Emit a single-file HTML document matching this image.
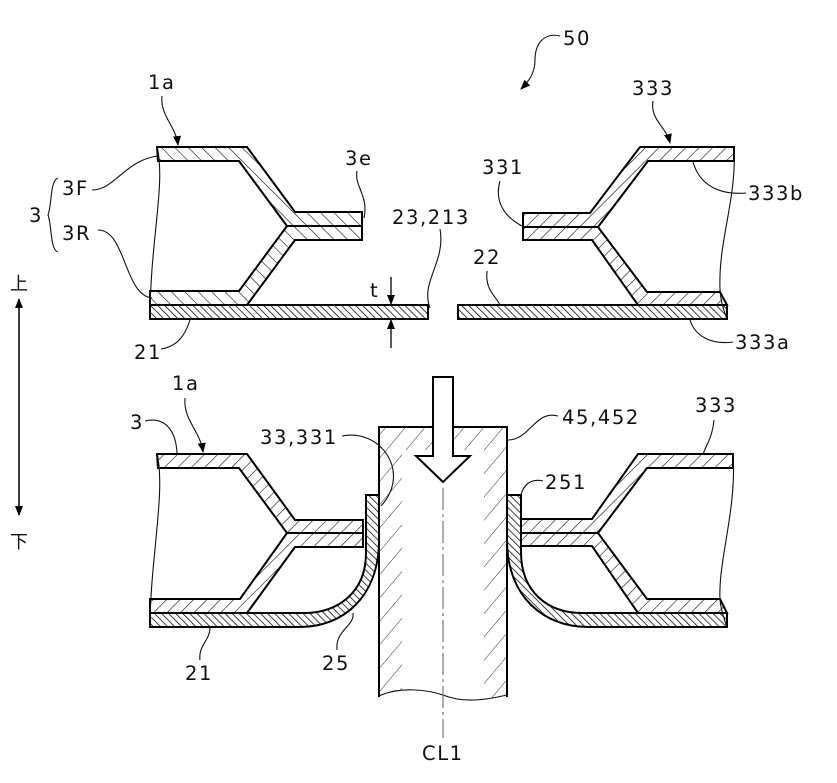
<!DOCTYPE html>
<html><head><meta charset="utf-8"><style>
html,body{margin:0;padding:0;background:#fff;}
svg{display:block;}
text{font-family:"DejaVu Sans","Liberation Sans",sans-serif;font-size:19.5px;fill:#111;letter-spacing:1.6px;}
.cjk{font-family:"Liberation Sans","Noto Sans CJK JP",sans-serif;font-size:18px;letter-spacing:0;}
.o{stroke:#000;stroke-width:2;stroke-linejoin:miter;}
.thin{fill:none;stroke:#111;stroke-width:1.1;}
</style></head><body>
<svg width="837" height="783" viewBox="0 0 837 783" xmlns="http://www.w3.org/2000/svg">
<defs>
<pattern id="hB" patternUnits="userSpaceOnUse" width="9.5" height="9.5" patternTransform="rotate(-45)"><line x1="0" y1="0" x2="0" y2="9.5" stroke="#111" stroke-width="1.2"/></pattern>
<pattern id="hF" patternUnits="userSpaceOnUse" width="9.5" height="9.5" patternTransform="rotate(45)"><line x1="0" y1="0" x2="0" y2="9.5" stroke="#111" stroke-width="1.2"/></pattern>
<pattern id="hD" patternUnits="userSpaceOnUse" width="5" height="5" patternTransform="rotate(-45)"><line x1="0" y1="0" x2="0" y2="5" stroke="#000" stroke-width="1.5"/></pattern>
<pattern id="hP" patternUnits="userSpaceOnUse" width="15" height="15" patternTransform="rotate(40)"><line x1="0" y1="0" x2="0" y2="15" stroke="#333" stroke-width="1"/></pattern>
<clipPath id="pc"><path d="M379,427 L507,427 L507,695 C490,699 465,704 443,695 C428,690 400,686 379,696 Z"/></clipPath>
<marker id="ar" markerWidth="10" markerHeight="10" refX="9" refY="5" orient="auto" markerUnits="userSpaceOnUse"><path d="M0,1 L10,5 L0,9 Z" fill="#000"/></marker>
<marker id="ars" markerWidth="10" markerHeight="10" refX="1" refY="5" orient="auto" markerUnits="userSpaceOnUse"><path d="M10,1 L0,5 L10,9 Z" fill="#000"/></marker>
</defs>

<!-- ===== TOP LEFT ===== -->
<path d="M157,147 L247,147 L295,212 L362,212 L362,226 L287,226 L239,161 L158,161 Z" fill="url(#hB)" class="o"/>
<path d="M150,291 L239,291 L287,226 L362,226 L362,240 L295,240 L247,305 L150,305 Z" fill="url(#hB)" class="o"/>
<rect x="150" y="305" width="278" height="14" fill="url(#hD)" class="o"/>
<path class="thin" d="M157,146 C166,185 150,240 150,320"/>

<!-- ===== TOP RIGHT ===== -->
<path d="M734,147 L640,147 L590,213 L523,213 L523,227 L598,227 L648,161 L734,161 Z" fill="url(#hF)" class="o"/>
<path d="M720,292 L647,292 L598,227 L523,227 L523,240 L592,240 L638,305 L727,305 Z" fill="url(#hF)" class="o"/>
<rect x="458" y="305" width="269" height="14" fill="url(#hD)" class="o"/>
<path class="thin" d="M734,146 C737,200 718,240 720,290 C721,305 725,312 727,320"/>

<!-- ===== BOTTOM LEFT ===== -->
<path d="M157,454 L247,454 L295,520 L363,520 L363,533 L287,533 L239,468 L158,468 Z" fill="url(#hF)" class="o"/>
<path d="M150,599 L240,599 L287,533 L363,533 L363,547 L295,547 L247,613 L150,613 Z" fill="url(#hF)" class="o"/>
<path d="M150,613 L305,613 C338,613 366,592 366,553 L366,495 L379,495 L379,540 C379,598 342,627 300,627 L150,627 Z" fill="url(#hD)" class="o"/>
<path class="thin" d="M157,453 C166,492 150,560 150,628"/>

<!-- ===== BOTTOM RIGHT ===== -->
<path d="M733,454 L638,454 L592,519 L521,519 L521,533 L598,533 L647,468 L733,468 Z" fill="url(#hF)" class="o"/>
<path d="M720,599 L647,599 L598,533 L521,533 L521,546 L592,546 L638,613 L727,613 Z" fill="url(#hF)" class="o"/>
<path d="M727,613 L582,613 C548,613 521,592 521,552 L521,495 L507,495 L507,540 C507,598 545,627 588,627 L727,627 Z" fill="url(#hD)" class="o"/>
<path class="thin" d="M733,453 C737,510 718,560 720,600 C721,612 725,620 727,628"/>

<!-- ===== PUNCH ===== -->
<g clip-path="url(#pc)">
<path d="M379,427 L507,427 L507,710 L379,710 Z M402,450 L484,450 L484,720 L402,720 Z" fill="url(#hP)" fill-rule="evenodd" stroke="none"/>
</g>
<path class="o" fill="none" d="M379,697 L379,427 L507,427 L507,697"/>
<path class="thin" d="M379,696 C400,686 428,690 443,695 C465,704 490,699 507,695"/>
<line x1="443" y1="488" x2="443" y2="738" stroke="#777" stroke-width="1.2" stroke-dasharray="22,4,3,4"/>
<polygon points="433,377 453,377 453,456 470,456 443,482 416,456 433,456" fill="#fff" stroke="#000" stroke-width="2" stroke-linejoin="miter"/>

<!-- ===== direction arrow ===== -->
<line x1="19" y1="299" x2="19" y2="515" stroke="#000" stroke-width="1.5" marker-start="url(#ars)" marker-end="url(#ar)"/>
<text class="cjk" x="10" y="290">上</text>
<text class="cjk" x="10" y="548">下</text>

<!-- ===== dimension t ===== -->
<line x1="391" y1="277" x2="391" y2="304" stroke="#000" stroke-width="1.3" marker-end="url(#ar)"/>
<line x1="391" y1="348" x2="391" y2="320" stroke="#000" stroke-width="1.3" marker-end="url(#ar)"/>

<!-- ===== leaders ===== -->
<path class="thin" d="M560,36 C543,32 535,45 535,60 C535,74 528,82 521,89" marker-end="url(#ar)"/>
<path class="thin" d="M653,101 C650,120 666,126 670,143" marker-end="url(#ar)"/>
<path class="thin" d="M162,96 C160,116 176,126 178,145" marker-end="url(#ar)"/>
<path class="thin" d="M185,398 C183,420 200,430 203,452" marker-end="url(#ar)"/>
<path class="thin" d="M357,171 C354,186 369,196 364,218"/>
<path class="thin" d="M500,181 C494,202 505,217 522,226"/>
<path class="thin" d="M693,162 C700,186 720,195 746,193"/>
<path class="thin" d="M92,190 C115,190 125,160 158,156"/>
<path class="thin" d="M98,230 C126,230 124,295 152,298"/>
<path d="M58,178 C50,180 52,205 48,215 C52,225 50,250 58,252" fill="none" stroke="#111" stroke-width="1.1"/>
<path class="thin" d="M440,229 C446,262 420,282 430,308"/>
<path class="thin" d="M487,271 C485,290 495,295 500,305"/>
<path class="thin" d="M161,349 C180,346 186,332 190,320"/>
<path class="thin" d="M690,320 C695,336 711,345 733,342"/>
<path class="thin" d="M145,421 C166,416 176,432 177,453"/>
<path class="thin" d="M342,436 C380,428 412,472 381,506"/>
<path class="thin" d="M558,416 C535,410 530,440 508,440"/>
<path class="thin" d="M543,481 C530,478 523,486 521,495"/>
<path class="thin" d="M714,420 C712,440 705,446 703,455"/>
<path class="thin" d="M200,660 C198,646 210,640 210,628"/>
<path class="thin" d="M337,650 C335,630 355,626 353,613"/>

<!-- ===== labels ===== -->
<text x="563" y="45">50</text>
<text x="632" y="95">333</text>
<text x="148" y="89">1a</text>
<text x="345" y="165">3e</text>
<text x="482" y="174">331</text>
<text x="748" y="200">333b</text>
<text x="62" y="195">3F</text>
<text x="29" y="222">3</text>
<text x="62" y="240">3R</text>
<text x="392" y="224">23,213</text>
<text x="473" y="264">22</text>
<text x="370" y="297">t</text>
<text x="134" y="359">21</text>
<text x="735" y="349">333a</text>
<text x="172" y="390">1a</text>
<text x="130" y="429">3</text>
<text x="260" y="444">33,331</text>
<text x="562" y="424">45,452</text>
<text x="695" y="412">333</text>
<text x="545" y="489">251</text>
<text x="185" y="680">21</text>
<text x="322" y="670">25</text>
<text x="422" y="760">CL1</text>
</svg>
</body></html>
